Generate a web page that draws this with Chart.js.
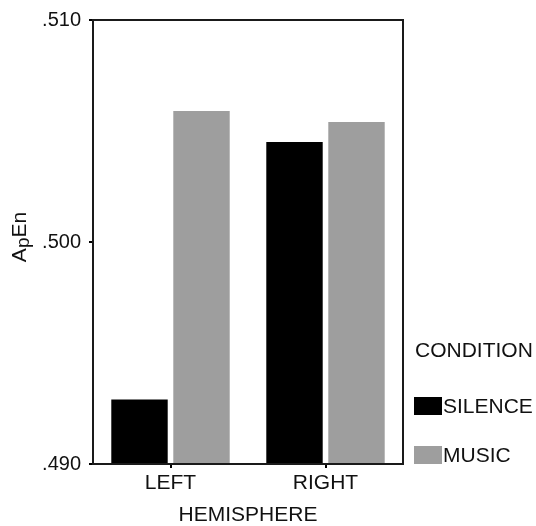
<!DOCTYPE html>
<html>
<head>
<meta charset="utf-8">
<script src="https://cdn.jsdelivr.net/npm/chart.js@4.4.0/dist/chart.umd.min.js"></script>
<style>
  html, body { margin: 0; padding: 0; background: #fff; }
</style>
</head>
<body>
<canvas id="chart" width="536" height="526"></canvas>
<script>
// ── Data ───────────────────────────────────────────────────
const HEMISPHERES = ['LEFT', 'RIGHT'];
const SILENCE     = [0.4929, 0.5045];
const MUSIC       = [0.5059, 0.5054];
const Y_TICKS     = [0.490, 0.500, 0.510];

const FONT = "'Liberation Sans', Arial, sans-serif";
const INK  = '#111';

// ── Plugins ────────────────────────────────────────────────

// frame round the plot area
const framePlugin = {
  id: 'frame',
  afterDatasetsDraw(chart) {
    const { ctx, chartArea: a } = chart;
    ctx.save();
    ctx.strokeStyle = '#1a1a1a';
    ctx.lineWidth = 2;
    ctx.strokeRect(a.left, a.top, a.right - a.left, a.bottom - a.top);
    ctx.restore();
  },
};

// y title "ApEn" with subscript p
const yTitlePlugin = {
  id: 'yTitle',
  afterDraw(chart) {
    const { ctx, chartArea: a } = chart;
    const big = `21px ${FONT}`, small = `19px ${FONT}`;
    ctx.save();
    ctx.fillStyle = INK;
    ctx.textBaseline = 'alphabetic';
    ctx.font = big;   const wA = ctx.measureText('A').width;
    ctx.font = small; const wp = ctx.measureText('p').width;
    ctx.font = big;   const wEn = ctx.measureText('En').width;
    const total = wA + wp + wEn;
    const cy = (a.top + a.bottom) / 2 - 5;
    ctx.translate(26, cy);
    ctx.rotate(-Math.PI / 2);
    let x = -total / 2;
    ctx.font = big;   ctx.fillText('A', x, 0);  x += wA;
    ctx.font = small; ctx.fillText('p', x, 3);  x += wp;
    ctx.font = big;   ctx.fillText('En', x, 0);
    ctx.restore();
  },
};

// legend on the right
const legendPlugin = {
  id: 'sideLegend',
  afterDraw(chart) {
    const { ctx, chartArea: a } = chart;
    const x0 = a.right + 11;
    ctx.save();
    ctx.fillStyle = INK;
    ctx.textBaseline = 'middle';
    ctx.font = `21px ${FONT}`;
    ctx.fillText('CONDITION', x0 + 1, 351);
    chart.data.datasets.forEach((ds, i) => {
      const y = 397 + i * 49;
      ctx.fillStyle = ds.backgroundColor;
      ctx.fillRect(x0, y, 28, 18);
      ctx.fillStyle = INK;
      ctx.fillText(ds.label, x0 + 29, y + 10);
    });
    ctx.restore();
  },
};

// ── Chart ──────────────────────────────────────────────────

new Chart(document.getElementById('chart'), {
  type: 'bar',
  data: {
    labels: HEMISPHERES,
    datasets: [
      { label: 'SILENCE', data: SILENCE, backgroundColor: '#000000' },
      { label: 'MUSIC',   data: MUSIC,   backgroundColor: '#9e9e9e' },
    ],
  },
  options: {
    responsive: false,
    animation: false,
    layout: { padding: { top: 20, right: 133, left: 0, bottom: 0 } },
    datasets: { bar: { categoryPercentage: 0.8, barPercentage: 0.91 } },
    plugins: {
      legend: { display: false },
      tooltip: { enabled: false },
    },
    scales: {
      x: {
        afterFit: s => { s.height = 62; },
        border: { display: false },
        grid: {
          offset: false, drawOnChartArea: false, drawTicks: true,
          tickLength: 4, color: '#000', lineWidth: 2,
        },
        ticks: { color: INK, padding: 3, font: { family: FONT, size: 21 } },
        title: {
          display: true, text: 'HEMISPHERE', color: INK,
          padding: { top: 0, bottom: 0 },
          font: { family: FONT, size: 21, lineHeight: 1 },
        },
      },
      y: {
        min: 0.49,
        max: 0.51,
        afterFit: s => { s.width = 93; },
        afterBuildTicks: s => { s.ticks = Y_TICKS.map(v => ({ value: v })); },
        border: { display: false },
        grid: {
          drawOnChartArea: false, drawTicks: true,
          tickLength: 4, color: '#000', lineWidth: 2,
        },
        ticks: {
          color: INK, padding: 8,
          font: { family: FONT, size: 20 },
          callback: v => v.toFixed(3).replace(/^0/, ''),
        },
      },
    },
  },
  plugins: [framePlugin, yTitlePlugin, legendPlugin],
});
</script>
</body>
</html>
